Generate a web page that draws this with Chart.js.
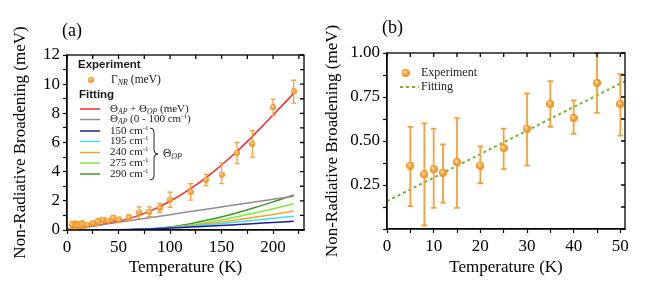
<!DOCTYPE html>
<html lang="en">
<head>
<meta charset="UTF-8">
<title>Non-Radiative Broadening</title>
<script src="https://cdn.jsdelivr.net/npm/chart.js"></script>
<style>
  body { margin: 0; background: #fff; }
  #left { position: absolute; left: 0; top: 0; }
  #right { position: absolute; left: 310px; top: 0; }
</style>
</head>
<body>
<canvas id="left" width="310" height="296"></canvas>
<canvas id="right" width="357" height="296"></canvas>
<script>
// experiment, low temperature part (shared by both panels)
var lowT = [5, 8, 10, 12, 15, 20, 25, 30, 35, 40, 45, 50];
var lowY = [0.36, 0.31, 0.34, 0.32, 0.38, 0.36, 0.46, 0.57, 0.71, 0.63, 0.83, 0.71];
var lowLo = [0.13, 0.02, 0.12, 0.15, 0.12, 0.26, 0.34, 0.36, 0.58, 0.54, 0.66, 0.53];
var lowHi = [0.58, 0.60, 0.57, 0.48, 0.63, 0.47, 0.57, 0.77, 0.84, 0.73, 1.00, 0.88];

// experiment, high temperature part (panel a only)
var highT = [60, 70, 80, 90, 100, 120, 135, 150, 165, 180, 200, 220];
var highY = [0.86, 1.20, 1.25, 1.52, 2.09, 2.60, 3.45, 3.80, 5.30, 5.90, 8.41, 9.50];
var highLo = [0.68, 0.80, 0.91, 1.20, 1.55, 2.05, 3.02, 3.18, 4.55, 5.00, 7.84, 8.70];
var highHi = [1.02, 1.59, 1.59, 1.82, 2.60, 3.18, 3.82, 4.60, 6.00, 6.82, 8.98, 10.27];

// fitted curves, panel a
var curveT = [0, 20, 40, 60, 80, 100, 120, 140, 160, 180, 200, 220];
var fitTotal = [0.05, 0.24, 0.47, 0.78, 1.28, 1.97, 2.84, 3.87, 5.07, 6.42, 7.88, 9.37];
var fitAP = [0, 0.21, 0.42, 0.63, 0.84, 1.05, 1.27, 1.48, 1.69, 1.90, 2.11, 2.32];
var op150 = [0, 0, 0.005, 0.03, 0.07, 0.13, 0.20, 0.27, 0.35, 0.43, 0.52, 0.60];
var op195 = [0, 0, 0.002, 0.02, 0.08, 0.16, 0.26, 0.38, 0.51, 0.65, 0.80, 0.95];
var op240 = [0, 0, 0.001, 0.02, 0.07, 0.16, 0.30, 0.46, 0.65, 0.85, 1.07, 1.30];
var op275 = [0, 0, 0, 0.01, 0.07, 0.18, 0.35, 0.57, 0.84, 1.13, 1.46, 1.80];
var op290 = [0, 0, 0, 0.01, 0.07, 0.21, 0.43, 0.73, 1.08, 1.49, 1.93, 2.40];

// linear fit, panel b
var lineT = [0, 51];
var lineY = [0.158, 0.84];

var colors = {
    total: '#f22a2a', ap: '#8e8e8e', c150: '#1c1c9c', c195: '#3fdcf0',
    c240: '#f2a52c', c275: '#84e63a', c290: '#3f962a', fit: '#72b531',
    err: '#f5a03c'
};

Chart.defaults.font.family = '"Liberation Serif", serif';
Chart.defaults.color = '#000';

function xy(xs, ys) {
    return xs.map(function (x, i) { return { x: x, y: ys[i] }; });
}

function sphere(d) {
    var c = document.createElement('canvas');
    c.width = c.height = d;
    var g = c.getContext('2d');
    var r = d / 2;
    var grad = g.createRadialGradient(r * 0.75, r * 0.7, r * 0.1, r, r, r);
    grad.addColorStop(0, '#fff4e4');
    grad.addColorStop(0.35, '#fbae4a');
    grad.addColorStop(1, '#ef8a12');
    g.fillStyle = grad;
    g.beginPath();
    g.arc(r, r, r, 0, Math.PI * 2);
    g.fill();
    return c;
}

// ticks every `step` from min up to max, nothing at an unaligned max
function stepTicks(step) {
    return function (scale) {
        var t = [];
        for (var i = 0; i * step <= scale.max + 1e-9; i++) {
            t.push({ value: Math.round(i * step * 1000) / 1000 });
        }
        scale.ticks = t;
    };
}

function curve(data, color) {
    return {
        type: 'line', data: data, borderColor: color, borderWidth: 1.5,
        pointRadius: 0, showLine: true, fill: false,
        cubicInterpolationMode: 'monotone', order: 2
    };
}

// mirrored inward ticks on top and right, plus the box
var framePlugin = {
    id: 'frame',
    afterDraw: function (chart) {
        var ctx = chart.ctx, a = chart.chartArea, sx = chart.scales.x, sy = chart.scales.y;
        ctx.save();
        ctx.strokeStyle = '#000';
        ctx.lineWidth = 1.3;
        ctx.strokeRect(a.left, a.top, a.right - a.left, a.bottom - a.top);
        ctx.beginPath();
        sx.ticks.forEach(function (t) {
            var px = sx.getPixelForValue(t.value);
            ctx.moveTo(px, a.top); ctx.lineTo(px, a.top + 4);
        });
        sy.ticks.forEach(function (t) {
            var py = sy.getPixelForValue(t.value);
            ctx.moveTo(a.right, py); ctx.lineTo(a.right - 4, py);
        });
        ctx.stroke();
        ctx.restore();
    }
};

var errorBarPlugin = {
    id: 'errorBars',
    beforeDatasetDraw: function (chart, args) {
        var ds = chart.data.datasets[args.index];
        if (!ds.errLo) return;
        var ctx = chart.ctx, sx = chart.scales.x, sy = chart.scales.y;
        ctx.save();
        ctx.strokeStyle = colors.err;
        ctx.lineWidth = ds.errWidth;
        ctx.beginPath();
        ds.data.forEach(function (p, i) {
            var px = sx.getPixelForValue(p.x);
            var lo = sy.getPixelForValue(ds.errLo[i]);
            var hi = sy.getPixelForValue(ds.errHi[i]);
            ctx.moveTo(px, lo); ctx.lineTo(px, hi);
            ctx.moveTo(px - ds.capW, lo); ctx.lineTo(px + ds.capW, lo);
            ctx.moveTo(px - ds.capW, hi); ctx.lineTo(px + ds.capW, hi);
        });
        ctx.stroke();
        ctx.restore();
    }
};

// text with sub/superscripts: parts = [[text, 'n'|'sub'|'sup'], ...]
function rich(ctx, x, y, parts, size) {
    ctx.textAlign = 'left';
    ctx.textBaseline = 'middle';
    parts.forEach(function (p) {
        if (p[1] === 'sub') {
            ctx.font = 'italic ' + (size * 0.7) + 'px "Liberation Serif"';
            ctx.fillText(p[0], x, y + 2.5);
        } else if (p[1] === 'sup') {
            ctx.font = (size * 0.65) + 'px "Liberation Serif"';
            ctx.fillText(p[0], x, y - 3);
        } else {
            ctx.font = size + 'px "Liberation Serif"';
            ctx.fillText(p[0], x, y);
        }
        x += ctx.measureText(p[0]).width;
    });
}

var legendA = {
    id: 'legendA',
    afterDraw: function (chart) {
        var ctx = chart.ctx;
        ctx.save();
        ctx.fillStyle = '#000';
        ctx.textBaseline = 'middle';
        ctx.font = '18px "Liberation Serif"';
        ctx.fillText('(a)', 62, 31);

        ctx.fillStyle = '#1a1a1a';
        ctx.font = 'bold 11.5px "Liberation Sans"';
        ctx.fillText('Experiment', 78, 65);
        ctx.fillText('Fitting', 79, 95);
        ctx.drawImage(sphere(6), 88, 77);
        rich(ctx, 111, 80, [['\u0393', 'n'], ['NR', 'sub'], [' (meV)', 'n']], 11.5);

        var rows = [
            [109, colors.total, [['\u0398', 'n'], ['AP', 'sub'], [' + \u0398', 'n'], ['OP', 'sub'], [' (meV)', 'n']]],
            [119.5, colors.ap, [['\u0398', 'n'], ['AP', 'sub'], [' (0 - 100 cm', 'n'], ['-1', 'sup'], [')', 'n']]],
            [131, colors.c150, [['150 cm', 'n'], ['-1', 'sup']]],
            [141.5, colors.c195, [['195 cm', 'n'], ['-1', 'sup']]],
            [152.5, colors.c240, [['240 cm', 'n'], ['-1', 'sup']]],
            [163, colors.c275, [['275 cm', 'n'], ['-1', 'sup']]],
            [174, colors.c290, [['290 cm', 'n'], ['-1', 'sup']]]
        ];
        rows.forEach(function (r) {
            ctx.strokeStyle = r[1];
            ctx.lineWidth = 1.5;
            ctx.beginPath();
            ctx.moveTo(80, r[0]); ctx.lineTo(100, r[0]);
            ctx.stroke();
            rich(ctx, 110, r[0], r[2], 11);
        });

        // brace grouping the optical phonon rows
        ctx.strokeStyle = '#222';
        ctx.lineWidth = 1;
        ctx.beginPath();
        ctx.moveTo(150, 128);
        ctx.quadraticCurveTo(154, 128, 154, 132);
        ctx.lineTo(154, 150);
        ctx.quadraticCurveTo(154, 154, 158, 154);
        ctx.quadraticCurveTo(154, 154, 154, 158);
        ctx.lineTo(154, 176);
        ctx.quadraticCurveTo(154, 180, 150, 180);
        ctx.stroke();
        rich(ctx, 163, 154, [['\u0398', 'n'], ['OP', 'sub']], 11.5);
        ctx.restore();
    }
};

var legendB = {
    id: 'legendB',
    afterDraw: function (chart) {
        var ctx = chart.ctx;
        ctx.save();
        ctx.fillStyle = '#000';
        ctx.textBaseline = 'middle';
        ctx.font = '18px "Liberation Serif"';
        ctx.fillText('(b)', 72, 28);

        ctx.drawImage(sphere(8), 91.5, 69);
        ctx.strokeStyle = colors.fit;
        ctx.lineWidth = 2;
        ctx.setLineDash([3, 3]);
        ctx.beginPath();
        ctx.moveTo(90, 87); ctx.lineTo(109, 87);
        ctx.stroke();
        ctx.setLineDash([]);
        ctx.fillStyle = '#222';
        ctx.font = '12px "Liberation Serif"';
        ctx.fillText('Experiment', 111, 73);
        ctx.fillText('Fitting', 111, 87);
        ctx.restore();
    }
};

function axes(xMax, xStep, xLabelStep, yMax, yStep, yLabel, yWidth, xHeight, yTitlePad) {
    return {
        x: {
            type: 'linear', min: 0, max: xMax,
            afterBuildTicks: stepTicks(xStep),
            afterFit: function (s) { s.height = xHeight; s.paddingLeft = 0; s.paddingRight = 0; },
            ticks: {
                autoSkip: false, maxRotation: 0, padding: 3,
                font: { size: 17 },
                callback: function (v) {
                    return Math.abs(v / xLabelStep - Math.round(v / xLabelStep)) < 1e-6 ? v : '';
                }
            },
            grid: { drawOnChartArea: false, tickLength: 4, color: '#000', tickWidth: 1.2 },
            border: { color: '#000', width: 1.3 },
            title: { display: true, text: 'Temperature (K)', font: { size: 17 }, padding: { top: 0, bottom: 18.5 } }
        },
        y: {
            type: 'linear', min: 0, max: yMax,
            afterBuildTicks: stepTicks(yStep),
            afterFit: function (s) { s.width = yWidth; },
            ticks: { autoSkip: false, padding: 3, font: { size: 17 }, callback: yLabel },
            grid: { drawOnChartArea: false, tickLength: 4, color: '#000', tickWidth: 1.2 },
            border: { color: '#000', width: 1.3 },
            title: {
                display: true, text: 'Non-Radiative Broadening (meV)', font: { size: 17 },
                padding: { top: yTitlePad, bottom: 0 }
            }
        }
    };
}

new Chart(document.getElementById('left'), {
    type: 'scatter',
    data: {
        datasets: [
            {
                data: xy(lowT.concat(highT), lowY.concat(highY)),
                errLo: lowLo.concat(highLo), errHi: lowHi.concat(highHi),
                errWidth: 1.3, capW: 2.5,
                pointStyle: sphere(6), pointRadius: 3, order: 1
            },
            curve(xy(curveT, fitAP), colors.ap),
            curve(xy(curveT, op150), colors.c150),
            curve(xy(curveT, op195), colors.c195),
            curve(xy(curveT, op240), colors.c240),
            curve(xy(curveT, op275), colors.c275),
            curve(xy(curveT, op290), colors.c290),
            curve(xy(curveT, fitTotal), colors.total)
        ]
    },
    options: {
        responsive: false, animation: false,
        layout: { padding: { top: 55, right: 6, left: 0, bottom: 0 } },
        plugins: { legend: { display: false }, tooltip: { enabled: false } },
        scales: axes(230, 25, 50, 12, 1, function (v) {
            return v % 2 === 0 ? v : '';
        }, 67, 66, 10.5)
    },
    plugins: [errorBarPlugin, framePlugin, legendA]
});

new Chart(document.getElementById('right'), {
    type: 'scatter',
    data: {
        datasets: [
            {
                data: xy(lowT, lowY), errLo: lowLo, errHi: lowHi,
                errWidth: 1.8, capW: 2.8,
                pointStyle: sphere(8), pointRadius: 4, order: 1
            },
            {
                type: 'line', data: xy(lineT, lineY), borderColor: colors.fit, borderWidth: 2,
                borderDash: [3, 3], pointRadius: 0, showLine: true, fill: false, order: 2
            }
        ]
    },
    options: {
        responsive: false, animation: false,
        layout: { padding: { top: 53, right: 42, left: 0, bottom: 0 } },
        plugins: { legend: { display: false }, tooltip: { enabled: false } },
        scales: axes(51, 5, 10, 1, 0.125, function (v) {
            return (v > 0 && Math.abs(v * 4 - Math.round(v * 4)) < 1e-6) ? v.toFixed(2) : '';
        }, 77, 67, 12)
    },
    plugins: [errorBarPlugin, framePlugin, legendB]
});
</script>
</body>
</html>
